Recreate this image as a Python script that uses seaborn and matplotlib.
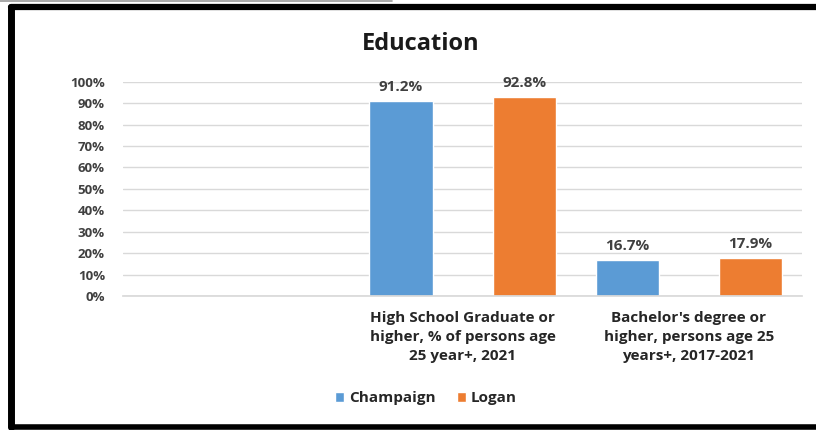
import numpy as np
import pandas as pd
import matplotlib.pyplot as plt
import seaborn as sns
from matplotlib.ticker import PercentFormatter
from matplotlib.lines import Line2D

# dados do grafico
categorias = [
    "High School Graduate or\nhigher, % of persons age\n25 year+, 2021",
    "Bachelor's degree or\nhigher, persons age 25\nyears+, 2017-2021",
]
ordem = [""] + categorias
champaign = [0.912, 0.167]
logan = [0.928, 0.179]
series = ["Champaign", "Logan"]
cores = ["#5B9BD5", "#ED7D31"]

df = pd.DataFrame({
    "Categoria": categorias * 2,
    "Valor": champaign + logan,
    "Condado": [series[0]] * 2 + [series[1]] * 2,
})

sns.set_theme(style="white")
plt.rcParams["font.family"] = ["Open Sans", "DejaVu Sans"]

fig = plt.figure(figsize=(8.16, 4.30), dpi=100)
ax = fig.add_axes([0.1507, 0.3116, 0.8323, 0.4984])

sns.barplot(data=df, x="Categoria", y="Valor", hue="Condado", order=ordem,
            hue_order=series, palette=cores, width=1.088, gap=0.487,
            saturation=1, ax=ax, legend=True)

ax.set_xlim(-0.5, 2.5)
ax.set_ylim(0, 1.0)
ax.set_yticks(np.arange(0, 1.01, 0.1))
ax.yaxis.set_major_formatter(PercentFormatter(1.0, decimals=0))
ax.grid(axis="y", color="#d9d9d9", linewidth=1)
ax.set_axisbelow(True)
for s in ["top", "right", "left"]:
    ax.spines[s].set_visible(False)
ax.spines["bottom"].set_color("#d9d9d9")
ax.tick_params(axis="y", length=0, pad=13, labelsize=9.5, labelcolor="#404040")
ax.tick_params(axis="x", length=0, pad=11, labelsize=11, labelcolor="#262626")
for lbl in ax.get_yticklabels():
    lbl.set_fontweight("bold")
for lbl in ax.get_xticklabels():
    lbl.set_fontweight("bold")
    lbl.set_linespacing(1.45)
ax.set_xlabel("")
ax.set_ylabel("")

# rotulos de valor
for cont in ax.containers:
    ax.bar_label(cont, labels=[f"{v * 100:.1f}%" for v in cont.datavalues],
                 padding=5, fontsize=11, fontweight="bold", color="#404040")

# legenda
handles, labels = ax.get_legend_handles_labels()
ax.legend(handles, labels, loc="center", bbox_to_anchor=(0.522, 0.074),
          bbox_transform=fig.transFigure, ncol=2, frameon=False,
          handlelength=0.6, handleheight=0.6, handletextpad=0.3,
          columnspacing=1.4, prop={"size": 11, "weight": "bold"},
          labelcolor="#262626")

fig.text(0.516, 0.898, "Education", ha="center", va="center",
         fontsize=17, fontweight="bold", color="#1a1a1a")

# moldura preta
fig.add_artist(Line2D([0.0135, 1.0], [0.984, 0.984], color="black", lw=4.5,
                      transform=fig.transFigure))
fig.add_artist(Line2D([0.0135, 0.0135], [0.006, 0.984], color="black", lw=5,
                      transform=fig.transFigure))
fig.add_artist(Line2D([0.0135, 1.0], [0.006, 0.006], color="black", lw=4,
                      transform=fig.transFigure))
fig.add_artist(Line2D([0.0, 0.48], [0.998, 0.998], color="#9a9a9a", lw=1.2,
                      transform=fig.transFigure))

fig.savefig("out.png", dpi=100)
